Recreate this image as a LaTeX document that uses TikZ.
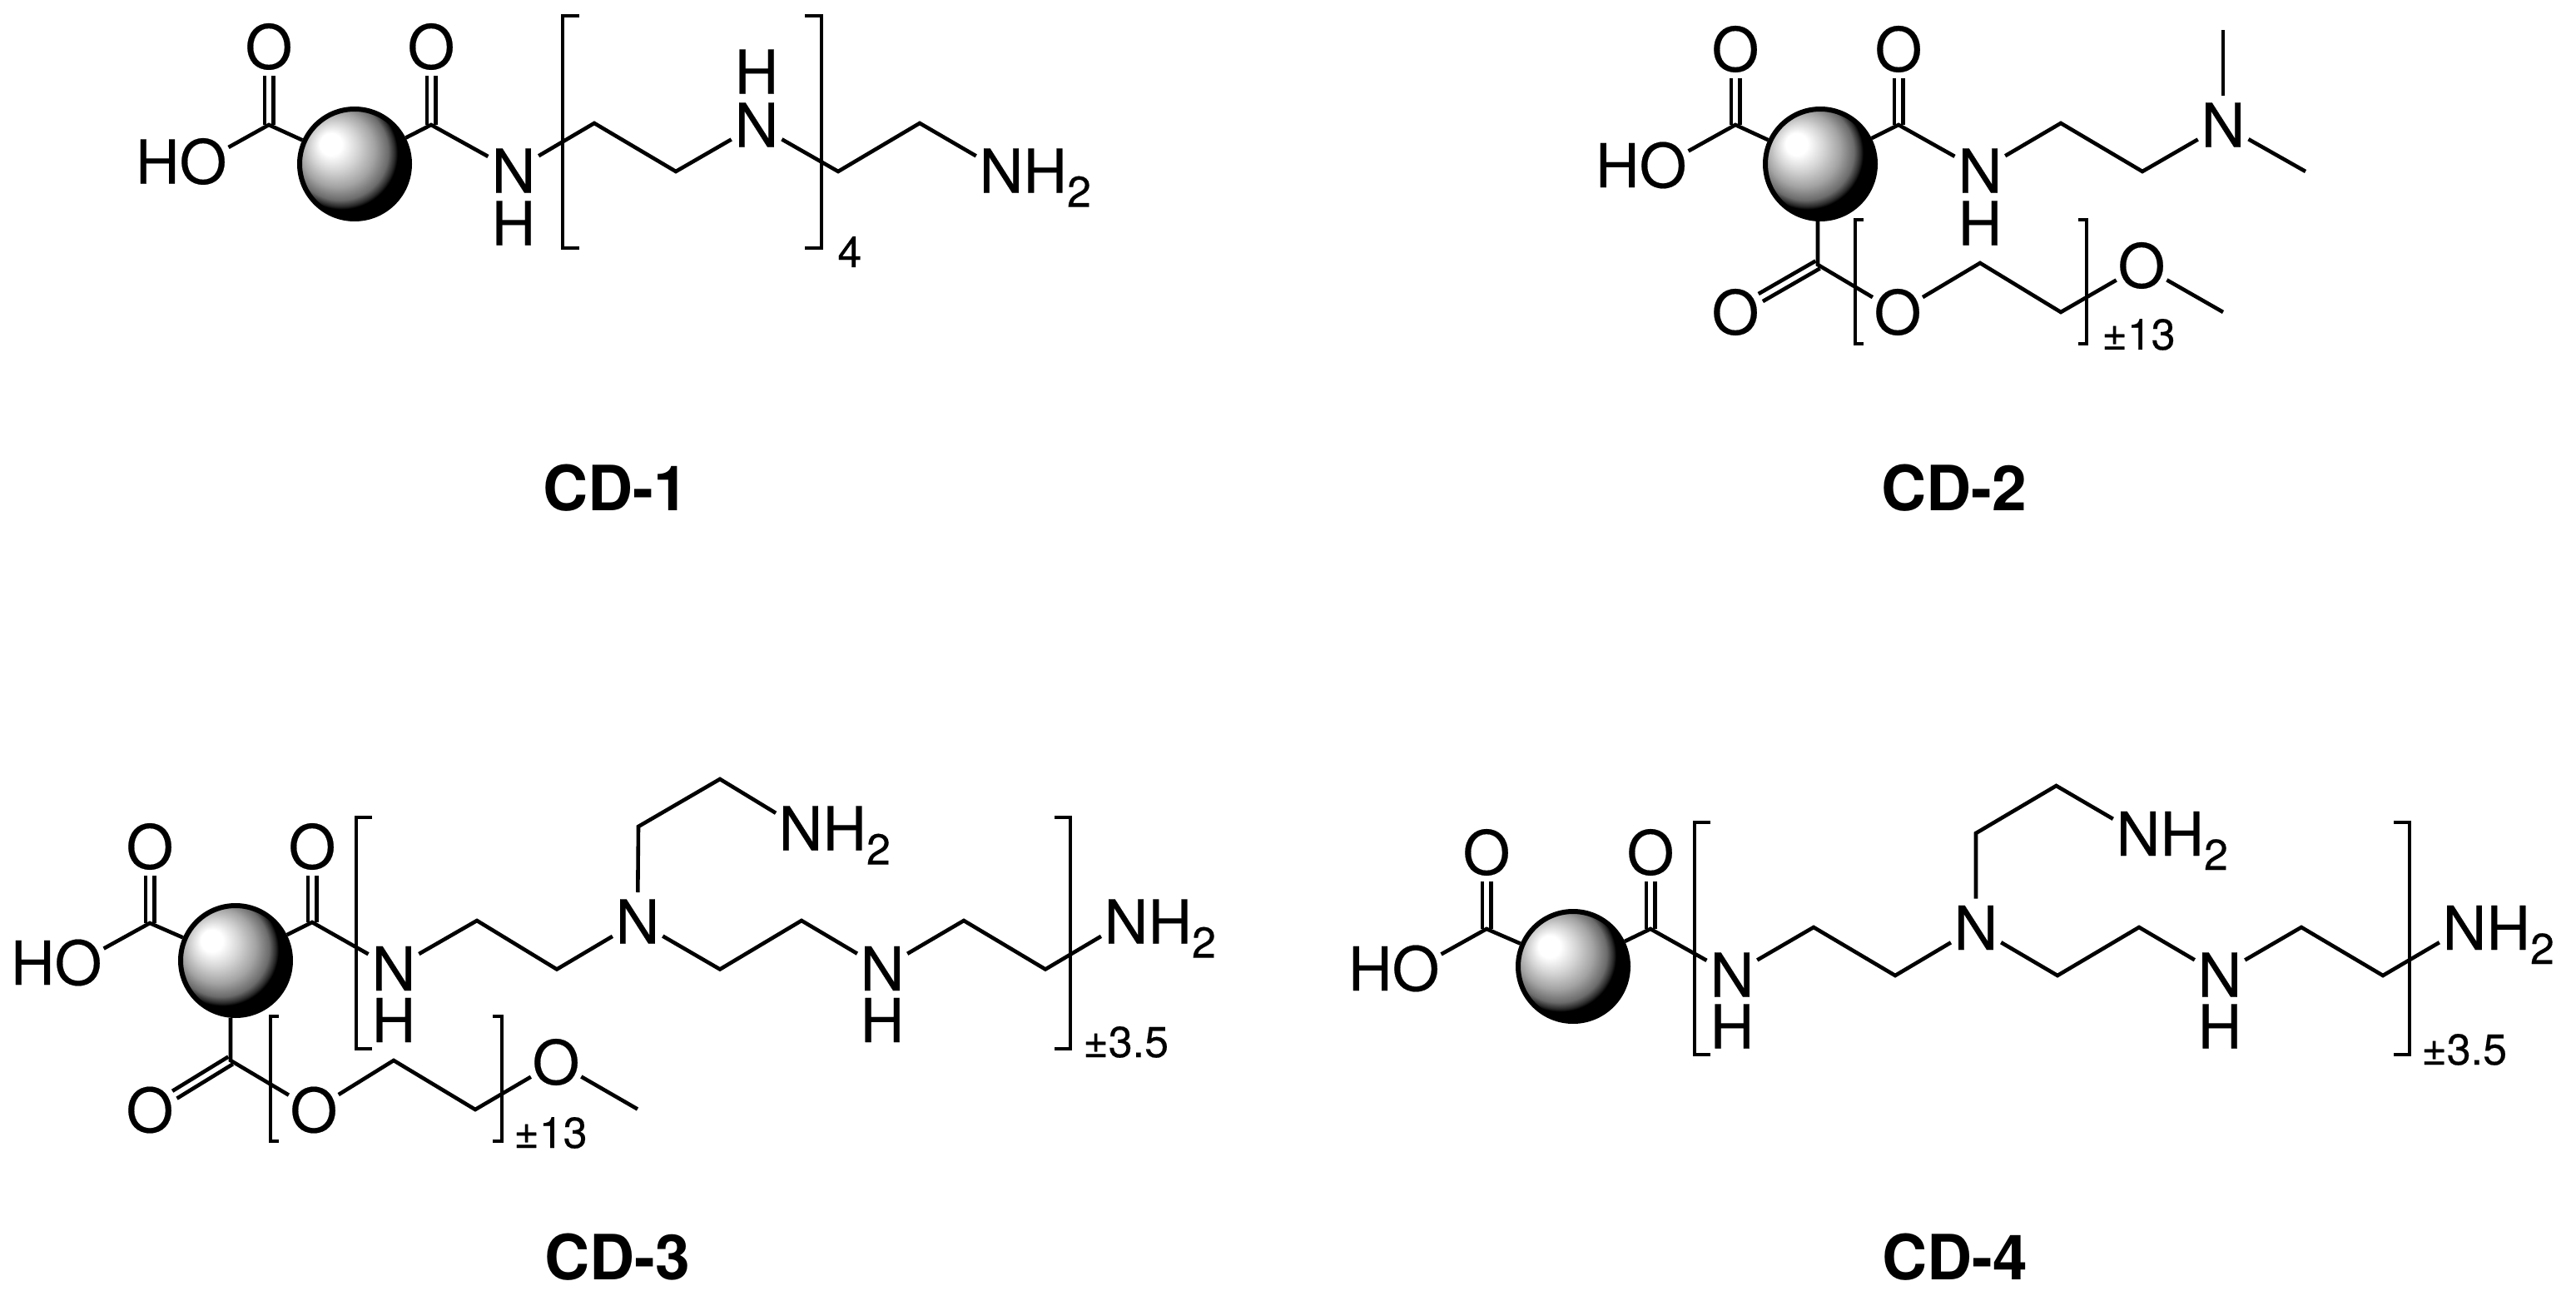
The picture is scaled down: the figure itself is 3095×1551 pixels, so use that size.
\documentclass[tikz,border=0pt]{standalone}
\usepackage{fontspec}
\setmainfont{TeX Gyre Heros}
\newfontfamily\molfont[FakeBold=0.3]{TeX Gyre Heros}
\usetikzlibrary{calc}
\pgfdeclareradialshading{sphereshade}{\pgfpoint{-12bp}{10bp}}{
  color(0bp)=(white);
  color(5bp)=(white);
  color(11bp)=(black!17);
  color(17bp)=(black!36);
  color(22bp)=(black!58);
  color(24.5bp)=(black!85);
  color(25.5bp)=(black);
  color(50bp)=(black)}
\newcommand\atomtxt[1]{\raisebox{-13.3pt}[0pt][0pt]{\makebox[0pt]{#1}}}
\newcommand\hotxt{\raisebox{-13.3pt}[0pt][0pt]{\makebox[0pt][r]{HO\kern-14.2pt}}}
\newcommand\nhtwotxt{\raisebox{-13.3pt}[0pt][0pt]{\makebox[0pt][l]{\kern-13.2pt NH\raisebox{-8.5pt}{\fontsize{26}{28}\selectfont 2}}}}
\newcommand\dblbond[2]{%
  \draw[bond,shorten >=17.5pt] ($(#1)!2.6pt!90:(#2.center)$) -- ($(#2.center)!2.6pt!-90:(#1)$);
  \draw[bond,shorten >=17.5pt] ($(#1)!2.6pt!-90:(#2.center)$) -- ($(#2.center)!2.6pt!90:(#1)$);}
\tikzset{
  bond/.style={line width=2.3pt,line cap=butt,line join=miter,draw=black},
  atom/.style={circle,inner sep=0pt,outer sep=0pt,minimum size=35pt,font=\molfont\fontsize{36.5}{40}\selectfont},
  sphere/.style={circle,inner sep=0pt,outer sep=1.5pt,minimum size=66pt,draw=black,line width=3pt,shade,shading=sphereshade},
  cdname/.style={anchor=base,inner sep=0pt,font=\fontsize{37.5}{40}\selectfont\bfseries},
  repeatlabel/.style={anchor=base west,inner sep=0pt,font=\molfont\fontsize{26}{28}\selectfont},
}
\begin{document}
\begin{tikzpicture}[x=0.5pt,y=-0.5pt]
\path[fill=white,use as bounding box] (0,0) rectangle (3095,1551);

% ---------- CD-1
\node[sphere] (as) at (426,197) {};
\coordinate (ac1) at (323,150);
\coordinate (ac2) at (518,150);
\node[atom] (aoh) at (244,194) {\hotxt};
\node[atom] (ao1) at (323,56) {\atomtxt{O}};
\node[atom] (ao2) at (518,56) {\atomtxt{O}};
\node[atom] (an1) at (617,205) {\atomtxt{N}};
\node[atom] (ah1) at (617,268) {\atomtxt{H}};
\coordinate (av1) at (714,148);
\coordinate (av2) at (812,206);
\node[atom] (an2) at (909,150) {\atomtxt{N}};
\node[atom] (ah2) at (909,86) {\atomtxt{H}};
\coordinate (av3) at (1007,206);
\coordinate (av4) at (1105,148);
\node[atom] (an3) at (1203,205) {\nhtwotxt};
\draw[bond] (aoh) -- (ac1) -- (as);
\draw[bond] (as) -- (ac2) -- (an1);
\dblbond{ac1}{ao1}
\dblbond{ac2}{ao2}
\draw[bond] (an1) -- (av1) -- (av2) -- (an2);
\draw[bond] (an2) -- (av3) -- (av4) -- (an3);
\draw[bond] (696,19) -- (676,19) -- (676,298) -- (696,298);
\draw[bond] (967,19) -- (987,19) -- (987,298) -- (967,298);
\node[repeatlabel] (arep) at (1006,321) {4};
\node[cdname] (alab) at (740,613) {CD-1};

% ---------- CD-2
\node[sphere] (bs) at (2187,197) {};
\coordinate (bc1) at (2085,150);
\coordinate (bc2) at (2281,150);
\node[atom] (boh) at (1998,198.5) {\hotxt};
\node[atom] (bo1) at (2085,59) {\atomtxt{O}};
\node[atom] (bo2) at (2281,59) {\atomtxt{O}};
\node[atom] (bn1) at (2379,205) {\atomtxt{N}};
\node[atom] (bh1) at (2379,268) {\atomtxt{H}};
\coordinate (bv1) at (2476,148);
\coordinate (bv2) at (2574,206);
\node[atom] (bn2) at (2671,150) {\atomtxt{N}};
\coordinate (bm1) at (2671,36);
\coordinate (bm2) at (2770,206);
\coordinate (bc3) at (2184,318);
\node[atom] (bo3) at (2085,375) {\atomtxt{O}};
\node[atom] (bo4) at (2280,375) {\atomtxt{O}};
\coordinate (bv3) at (2379,316);
\coordinate (bv4) at (2476,375);
\node[atom] (bo5) at (2573,319) {\atomtxt{O}};
\coordinate (bm3) at (2671,375);
\draw[bond] (boh) -- (bc1) -- (bs);
\draw[bond] (bs) -- (bc2) -- (bn1);
\dblbond{bc1}{bo1}
\dblbond{bc2}{bo2}
\draw[bond] (bn1) -- (bv1) -- (bv2) -- (bn2);
\draw[bond] (bn2) -- (bm1);
\draw[bond] (bn2) -- (bm2);
\draw[bond] (bc3 |- bs.south) -- (bc3) -- (bo4);
\dblbond{bc3}{bo3}
\draw[bond] (bo4) -- (bv3) -- (bv4) -- (bo5);
\draw[bond] (bo5) -- (bm3);
\draw[bond] (2239,264) -- (2229,264) -- (2229,413) -- (2239,413);
\draw[bond] (2497,264) -- (2507,264) -- (2507,413) -- (2497,413);
\node[repeatlabel] (brep) at (2525,420) {±13};
\node[cdname] (blab) at (2348,613) {CD-2};

% ---------- CD-3
\node[sphere] (cs) at (283,1154) {};
\coordinate (cc1) at (180,1109);
\coordinate (cc2) at (375,1108);
\node[atom] (coh) at (94,1156.5) {\hotxt};
\node[atom] (co1) at (180,1017) {\atomtxt{O}};
\node[atom] (co2) at (375,1017) {\atomtxt{O}};
\node[atom] (cn1) at (473,1163.5) {\atomtxt{N}};
\node[atom] (ch1) at (473,1225.5) {\atomtxt{H}};
\coordinate (cv1) at (573,1106);
\coordinate (cv2) at (669,1164.5);
\node[atom] (cn2) at (766,1107) {\atomtxt{N}};
\coordinate (cv3) at (767,993);
\coordinate (cv4) at (865,936);
\node[atom] (cn3) at (962,995) {\nhtwotxt};
\coordinate (cv5) at (865,1164.5);
\coordinate (cv6) at (963,1106);
\node[atom] (cn4) at (1060,1163.5) {\atomtxt{N}};
\node[atom] (ch4) at (1060,1225.5) {\atomtxt{H}};
\coordinate (cv7) at (1158,1106);
\coordinate (cv8) at (1256,1164.5);
\node[atom] (cn5) at (1353,1107) {\nhtwotxt};
\coordinate (cc3) at (277,1274);
\node[atom] (co3) at (180,1333.5) {\atomtxt{O}};
\node[atom] (co4) at (377,1333.5) {\atomtxt{O}};
\coordinate (cv9) at (473,1274);
\coordinate (cv10) at (571,1333);
\node[atom] (co5) at (668,1276) {\atomtxt{O}};
\coordinate (cm1) at (766,1332.5);
\draw[bond] (coh) -- (cc1) -- (cs);
\draw[bond] (cs) -- (cc2) -- (cn1);
\dblbond{cc1}{co1}
\dblbond{cc2}{co2}
\draw[bond] (cn1) -- (cv1) -- (cv2) -- (cn2);
\draw[bond] (cn2) -- (cv3) -- (cv4) -- (cn3);
\draw[bond] (cn2) -- (cv5) -- (cv6) -- (cn4);
\draw[bond] (cn4) -- (cv7) -- (cv8) -- (cn5);
\draw[bond] (cc3 |- cs.south) -- (cc3) -- (co4);
\dblbond{cc3}{co3}
\draw[bond] (co4) -- (cv9) -- (cv10) -- (co5);
\draw[bond] (co5) -- (cm1);
\draw[bond] (447,982) -- (428,982) -- (428,1260) -- (447,1260);
\draw[bond] (1267,982) -- (1286,982) -- (1286,1260) -- (1267,1260);
\draw[bond] (335,1221) -- (325,1221) -- (325,1371) -- (335,1371);
\draw[bond] (592,1221) -- (603,1221) -- (603,1371) -- (592,1371);
\node[repeatlabel] (crep1) at (1301,1270) {±3.5};
\node[repeatlabel] (crep2) at (617,1379) {±13};
\node[cdname] (clab) at (742,1537) {CD-3};

% ---------- CD-4
\node[sphere] (ds) at (1890,1161) {};
\coordinate (dc1) at (1786,1116);
\coordinate (dc2) at (1983,1116);
\node[atom] (doh) at (1701,1163.5) {\hotxt};
\node[atom] (do1) at (1786,1024) {\atomtxt{O}};
\node[atom] (do2) at (1983,1024) {\atomtxt{O}};
\node[atom] (dn1) at (2081,1171) {\atomtxt{N}};
\node[atom] (dh1) at (2081,1233) {\atomtxt{H}};
\coordinate (dv1) at (2179,1114);
\coordinate (dv2) at (2277,1172);
\node[atom] (dn2) at (2374,1114.5) {\atomtxt{N}};
\coordinate (dv3) at (2374,1001);
\coordinate (dv4) at (2470.5,944);
\node[atom] (dn3) at (2569,1001.5) {\nhtwotxt};
\coordinate (dv5) at (2472,1172);
\coordinate (dv6) at (2570,1114);
\node[atom] (dn4) at (2667,1171) {\atomtxt{N}};
\node[atom] (dh4) at (2667,1233) {\atomtxt{H}};
\coordinate (dv7) at (2765,1114);
\coordinate (dv8) at (2863,1172);
\node[atom] (dn5) at (2961,1114.5) {\nhtwotxt};
\draw[bond] (doh) -- (dc1) -- (ds);
\draw[bond] (ds) -- (dc2) -- (dn1);
\dblbond{dc1}{do1}
\dblbond{dc2}{do2}
\draw[bond] (dn1) -- (dv1) -- (dv2) -- (dn2);
\draw[bond] (dn2) -- (dv3) -- (dv4) -- (dn3);
\draw[bond] (dn2) -- (dv5) -- (dv6) -- (dn4);
\draw[bond] (dn4) -- (dv7) -- (dv8) -- (dn5);
\draw[bond] (2055,988) -- (2036,988) -- (2036,1267) -- (2055,1267);
\draw[bond] (2876,988) -- (2895,988) -- (2895,1267) -- (2876,1267);
\node[repeatlabel] (drep) at (2909,1279) {±3.5};
\node[cdname] (dlab) at (2349,1537) {CD-4};
\end{tikzpicture}
\end{document}
